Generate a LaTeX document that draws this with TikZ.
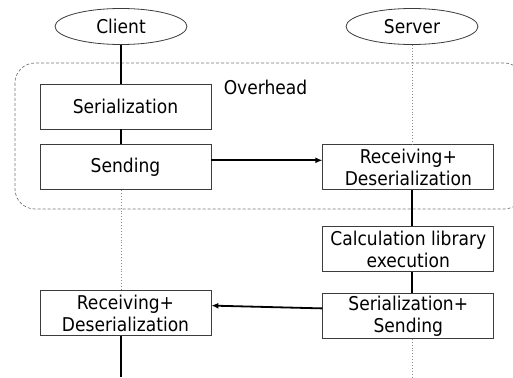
\documentclass[tikz,border=0pt]{standalone}
\usepackage{fontspec}
\setmainfont{DejaVu Sans Condensed}
\usepackage{tikz}
\usetikzlibrary{arrows.meta, positioning, shapes.geometric}
\definecolor{boxgray}{RGB}{60,60,60}
\definecolor{dotgray}{RGB}{140,140,140}
\definecolor{dashgray}{RGB}{120,120,120}
\tikzset{
  actor/.style={ellipse, draw=boxgray, line width=0.8pt,
    minimum width=132pt, minimum height=36pt, inner sep=0pt,
    font=\fontsize{19}{22}\selectfont},
  stepbox/.style={rectangle, draw=boxgray, fill=white, line width=0.8pt,
    minimum width=171pt, minimum height=45pt, inner sep=0pt,
    align=center, font=\fontsize{19}{22}\selectfont},
  life/.style={line width=1.8pt, color=black},
  lifedot/.style={line width=0.9pt, color=dotgray, dotted},
  msg/.style={-{Latex[length=7pt,width=6pt]}, line width=1.8pt, color=black},
  overhead/.style={dash pattern=on 3pt off 2pt, line width=0.7pt,
    color=dashgray, rounded corners=20pt}
}
\begin{document}
\begin{tikzpicture}[x=1pt, y=1pt, node distance=15pt and 111pt]
  \useasboundingbox (0,0) rectangle (513,-377);
  \clip (0,0) rectangle (513,-377);
  \draw[overhead] (15,-63) rectangle (524,-209);
  \node[anchor=base, font=\fontsize{19}{22}\selectfont] (ovh) at (265.5,-95) {Overhead};
  % client side
  \node[actor] (client) at (121,-26.5) {Client};
  \node[stepbox] (ser) at (125.5,-106.5) {Serialization};
  \node[stepbox, below=of ser] (send) {Sending};
  \node[stepbox, below=100pt of send] (lrecv) {Receiving+\\Deserialization};
  \coordinate (cend) at (121,-377);
  % server side
  \node[actor] (server) at (412,-26.5) {Server};
  \node[stepbox, right=of send] (rrecv) {Receiving+\\Deserialization};
  \node[stepbox, below=36pt of rrecv] (calc) {Calculation library\\execution};
  \node[stepbox, below=21pt of calc] (sersend) {Serialization+\\Sending};
  \coordinate (srvend) at (412,-377);
  % lifelines
  \draw[life] (client.south) -- (client.south |- ser.north);
  \draw[life] (client.south |- ser.south) -- (client.south |- send.north);
  \draw[lifedot] (client.south |- send.south) -- (client.south |- lrecv.north);
  \draw[life] (client.south |- lrecv.south) -- (cend);
  \draw[lifedot] (server.south) -- (server.south |- rrecv.north);
  \draw[life] (server.south |- rrecv.south) -- (server.south |- calc.north);
  \draw[life] (server.south |- calc.south) -- (server.south |- sersend.north);
  \draw[lifedot] (server.south |- sersend.south) -- (srvend);
  % messages
  \draw[msg] ([yshift=7pt]send.east) -- ([yshift=7pt]rrecv.west);
  \draw[msg] ([yshift=7.5pt]sersend.west) -- ([yshift=7.5pt]lrecv.east);
\end{tikzpicture}
\end{document}
